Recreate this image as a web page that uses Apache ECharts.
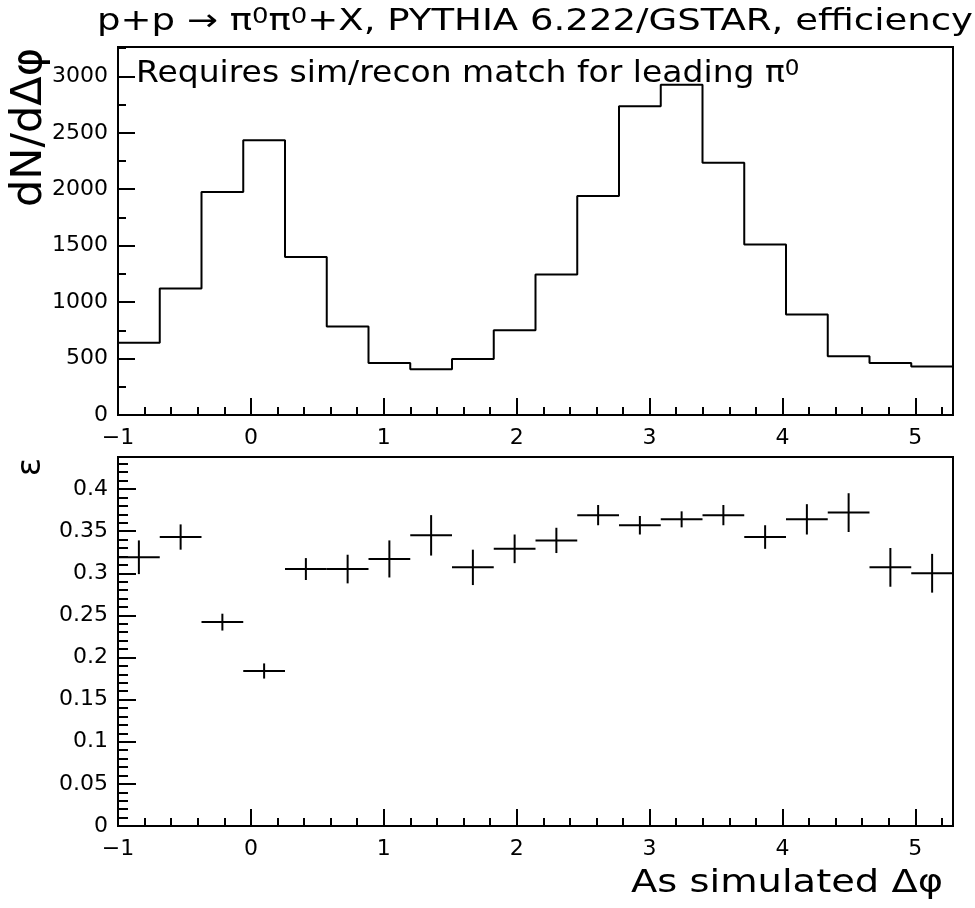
<!DOCTYPE html>
<html>
<head>
<meta charset="utf-8">
<script src="https://cdn.jsdelivr.net/npm/echarts@6/dist/echarts.min.js"></script>
<style>
html,body{margin:0;padding:0;background:#fff;}
#chart{width:975px;height:908px;}
</style>
</head>
<body>
<div id="chart"></div>
<script>
// ---- data ----
const xMin = -1;
const nBins = 20;
const binWidth = 2 * Math.PI / nBins;
const xMax = xMin + nBins * binWidth;
const counts = [640, 1120, 1975, 2435, 1400, 785, 460, 405, 495, 750, 1245, 1940, 2735, 2925, 2235, 1510, 890, 520, 460, 430];
const eff = [0.319, 0.343, 0.242, 0.184, 0.305, 0.305, 0.317, 0.345, 0.307, 0.329, 0.339, 0.369, 0.357, 0.364, 0.369, 0.343, 0.364, 0.372, 0.307, 0.300];
const effErr = [0.020, 0.015, 0.010, 0.009, 0.013, 0.017, 0.022, 0.024, 0.021, 0.017, 0.015, 0.012, 0.011, 0.0095, 0.012, 0.014, 0.018, 0.023, 0.023, 0.023];
const countsMax = 3260;
const effMax = 0.438;

// ---- build ----
const FONT = '"DejaVu Sans"';
const edges = [];
for (let i = 0; i <= nBins; i++) edges.push(xMin + i * binWidth);
const histData = edges.map((e, i) => [e, counts[Math.min(i, nBins - 1)]]);
const effData = eff.map((v, i) => [edges[i], edges[i + 1], (edges[i] + edges[i + 1]) / 2, v, effErr[i]]);

function intLabel(v) {
  const r = Math.round(v);
  if (Math.abs(v - r) > 1e-6) return '';
  return r < 0 ? '\u2212' + Math.abs(r) : String(r);
}
function xAx(grid, minor) {
  return {
    type: 'value', gridIndex: grid, position: 'bottom', min: xMin, max: xMax,
    interval: minor ? 0.2 : 1,
    axisLine: { show: !minor, onZero: false, lineStyle: { color: '#000', width: 2 } },
    axisTick: { show: true, inside: true, length: minor ? 8 : 17, lineStyle: { color: '#000', width: 2 } },
    axisLabel: { show: !minor, formatter: intLabel, color: '#000', fontFamily: FONT, fontSize: 22, margin: 12 },
    splitLine: { show: false }
  };
}
function yAx(grid, max, interval, minorLen, majorLen, minor, fmt) {
  return {
    type: 'value', gridIndex: grid, position: 'left', min: 0, max: max,
    interval: interval,
    axisLine: { show: !minor, onZero: false, lineStyle: { color: '#000', width: 2 } },
    axisTick: { show: true, inside: true, length: minor ? minorLen : majorLen, lineStyle: { color: '#000', width: 2 } },
    axisLabel: { show: !minor, formatter: fmt, color: '#000', fontFamily: FONT, fontSize: 22, margin: 10 },
    splitLine: { show: false }
  };
}
function countFmt(v) {
  const r = Math.round(v / 500) * 500;
  return Math.abs(v - r) < 1e-6 ? String(r) : '';
}
function effFmt(v) {
  const r = Math.round(v / 0.05);
  if (Math.abs(v - r * 0.05) > 1e-6) return '';
  return String(+(r * 0.05).toFixed(2));
}

const chart = echarts.init(document.getElementById('chart'), null, { renderer: 'canvas' });
chart.setOption({
  backgroundColor: '#fff',
  animation: false,
  grid: [
    { left: 118, top: 47, width: 835, height: 368, show: true, borderColor: '#000', borderWidth: 2, backgroundColor: 'transparent' },
    { left: 118, top: 457, width: 835, height: 369, show: true, borderColor: '#000', borderWidth: 2, backgroundColor: 'transparent' }
  ],
  xAxis: [xAx(0, false), xAx(0, true), xAx(1, false), xAx(1, true)],
  yAxis: [
    yAx(0, countsMax, 500, 8, 17, false, countFmt),
    yAx(0, countsMax, 250, 8, 17, true, countFmt),
    yAx(1, effMax, 0.05, 10, 18, false, effFmt),
    yAx(1, effMax, 0.01, 10, 18, true, effFmt)
  ],
  series: [
    {
      type: 'line', xAxisIndex: 0, yAxisIndex: 0, step: 'end', data: histData,
      symbol: 'none', lineStyle: { color: '#000', width: 2 }, clip: true
    },
    {
      type: 'custom', xAxisIndex: 2, yAxisIndex: 2, data: effData,
      encode: { x: [0, 1, 2], y: 3 },
      renderItem: function (params, api) {
        const lo = api.coord([api.value(0), api.value(3)]);
        const hi = api.coord([api.value(1), api.value(3)]);
        const up = api.coord([api.value(2), api.value(3) + api.value(4)]);
        const dn = api.coord([api.value(2), api.value(3) - api.value(4)]);
        const st = { stroke: '#000', lineWidth: 2 };
        return {
          type: 'group', children: [
            { type: 'line', shape: { x1: lo[0], y1: lo[1], x2: hi[0], y2: hi[1] }, style: st },
            { type: 'line', shape: { x1: up[0], y1: up[1], x2: dn[0], y2: dn[1] }, style: st }
          ]
        };
      }
    }
  ],
  graphic: [
    {
      type: 'text', x: 97, y: 22, scaleX: 1.235,
      style: {
        text: 'p+p \u2192 \u03c0{s|0}\u03c0{s|0}+X, PYTHIA 6.222/GSTAR, efficiency',
        fontFamily: FONT, fontSize: 30, fill: '#000', align: 'left', verticalAlign: 'middle',
        rich: { s: { fontFamily: FONT, fontSize: 21, verticalAlign: 'top', fill: '#000' } }
      }
    },
    {
      type: 'text', x: 136, y: 74, scaleX: 1.1,
      style: {
        text: 'Requires sim/recon match for leading \u03c0{s|0}',
        fontFamily: FONT, fontSize: 30, fill: '#000', align: 'left', verticalAlign: 'middle',
        rich: { s: { fontFamily: FONT, fontSize: 21, verticalAlign: 'top', fill: '#000' } }
      }
    },
    {
      type: 'text', x: 30, y: 48, rotation: Math.PI / 2,
      style: { text: 'dN/d\u0394\u03c6', fontFamily: FONT, fontSize: 43, fill: '#000', align: 'right', verticalAlign: 'middle' }
    },
    {
      type: 'text', x: 31, y: 467, rotation: Math.PI / 2,
      style: { text: '\u03b5', fontFamily: FONT, fontSize: 34, fill: '#000', align: 'center', verticalAlign: 'middle' }
    },
    {
      type: 'text', x: 943, y: 884, scaleX: 1.2,
      style: { text: 'As simulated \u0394\u03c6', fontFamily: FONT, fontSize: 32, fill: '#000', align: 'right', verticalAlign: 'middle' }
    }
  ]
});
</script>
</body>
</html>
